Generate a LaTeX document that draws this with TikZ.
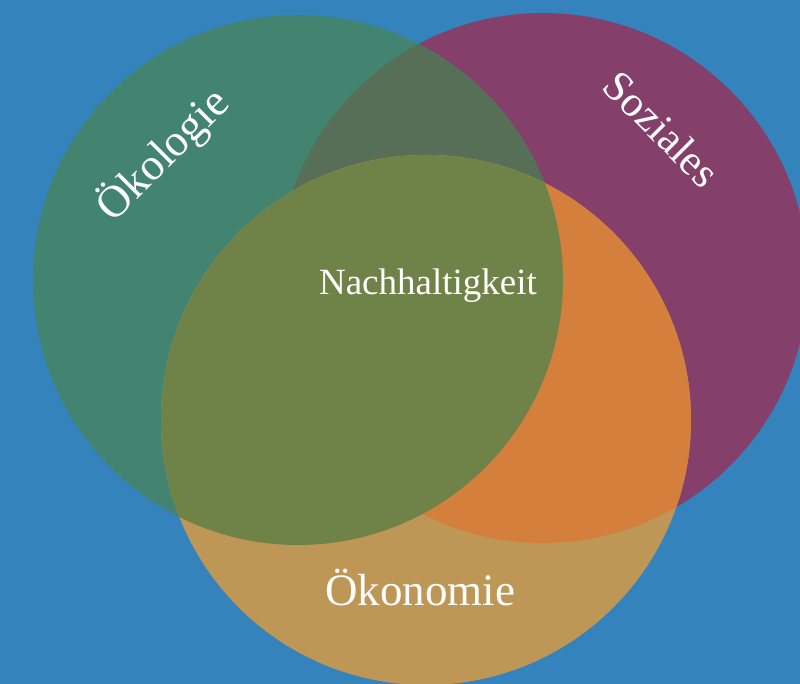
\documentclass[tikz,border=0pt]{standalone}
\usepackage{fontspec}
\setmainfont{Liberation Serif}
\definecolor{bg}{HTML}{3483BD}
\definecolor{eco}{HTML}{438470}
\definecolor{soc}{HTML}{843F6A}
\definecolor{econ}{HTML}{BE9656}
\definecolor{ecosoc}{HTML}{566F56}
\definecolor{econsoc}{HTML}{D4803C}
\definecolor{ecoecon}{HTML}{6F8348}
\tikzset{
  lbl/.style={text=white, font=\fontsize{45}{50}\selectfont, inner sep=0pt},
  clbl/.style={text=white, font=\fontsize{37}{44}\selectfont, inner sep=0pt}
}
\begin{document}
\begin{tikzpicture}[x=1pt,y=1pt]
\def\R{265}
\coordinate (G) at (298,404);
\coordinate (S) at (543,406);
\coordinate (O) at (426,264);
\fill[bg] (0,0) rectangle (800,684);
\useasboundingbox (0,0) rectangle (800,684);
\fill[soc] (S) circle (\R);
\fill[eco] (G) circle (\R);
\begin{scope}
  \clip (G) circle (\R);
  \fill[ecosoc] (S) circle (\R);
\end{scope}
\fill[econ] (O) circle (\R);
\begin{scope}
  \clip (O) circle (\R);
  \fill[econsoc] (S) circle (\R);
  \fill[ecoecon] (G) circle (\R);
\end{scope}
\node[clbl] (nach) at (428,398) {Nachhaltigkeit};
\node[lbl] (oek) at (420,97) {Ökonomie};
\node[lbl, rotate=45] (oko) at (163,529) {Ökologie};
\node[lbl, rotate=-45, font=\fontsize{43}{50}\selectfont] (soz) at (662,555) {Soziales};
\end{tikzpicture}
\end{document}
